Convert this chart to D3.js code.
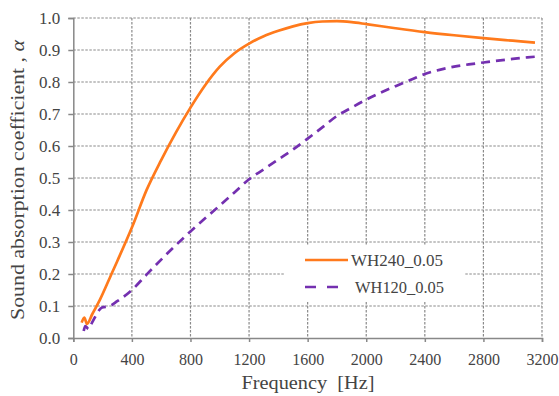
<!DOCTYPE html>
<html><head><meta charset="utf-8">
<script src="https://cdn.jsdelivr.net/npm/d3@7"></script>
<style>body{margin:0;background:#fff}svg{display:block}</style>
</head><body>
<svg id="c" width="559" height="396"></svg>
<script>
const xTicks = [0,400,800,1200,1600,2000,2400,2800,3200];
const yTicks = [0,0.1,0.2,0.3,0.4,0.5,0.6,0.7,0.8,0.9,1.0];
const seriesNames = ["WH240_0.05","WH120_0.05"];
const wh240Freq = [57,75,93,130,182,251,300,400,500,600,700,800,900,1000,1100,1200,1300,1400,1500,1600,1700,1800,1900,2000,2200,2400,2600,2800,3000,3152];
const wh240Val  = [0.048,0.064,0.044,0.075,0.12,0.19,0.24,0.345,0.462,0.556,0.642,0.72,0.79,0.848,0.89,0.92,0.943,0.96,0.974,0.984,0.989,0.99,0.987,0.981,0.968,0.956,0.946,0.937,0.929,0.923];
const wh120Freq = [71,82,105,128,196,250,300,400,500,600,700,800,900,1000,1100,1200,1300,1400,1500,1600,1700,1800,1900,2000,2100,2200,2300,2400,2500,2600,2700,2800,2900,3000,3100,3152];
const wh120Val  = [0.022,0.037,0.028,0.048,0.095,0.1,0.115,0.15,0.198,0.245,0.29,0.333,0.374,0.414,0.455,0.496,0.527,0.558,0.589,0.623,0.658,0.694,0.72,0.745,0.767,0.787,0.806,0.825,0.838,0.848,0.855,0.861,0.867,0.872,0.877,0.879];

const svg = d3.select("#c");
const L=73.3, R=542, T=18, B=338;
const x = d3.scaleLinear().domain([0,3200]).range([L,R]);
const y = d3.scaleLinear().domain([0,1]).range([B,T]);
const gridC="#8a8a8a", axC="#888", txtC="#444";
const font="'Liberation Serif', 'DejaVu Serif', serif";

// grid
const g = svg.append("g");
g.selectAll(".hg").data(yTicks.filter(d=>d>0)).enter().append("line")
 .attr("x1",L).attr("x2",R).attr("y1",d=>y(d)).attr("y2",d=>y(d))
 .attr("stroke",gridC).attr("stroke-width",1.2).attr("stroke-dasharray","2.5,1.5");
g.selectAll(".vg").data(xTicks.filter(d=>d>0)).enter().append("line")
 .attr("x1",d=>x(d)).attr("x2",d=>x(d)).attr("y1",T).attr("y2",B)
 .attr("stroke",gridC).attr("stroke-width",1.2).attr("stroke-dasharray","2.5,1.5");

// axes
const xa = svg.append("g").attr("transform",`translate(0,${B})`)
 .call(d3.axisBottom(x).tickValues(xTicks).tickSize(4).tickPadding(12).tickFormat(d3.format("d")));
const ya = svg.append("g").attr("transform",`translate(${L},0)`)
 .call(d3.axisLeft(y).tickValues(yTicks).tickSize(5).tickPadding(8).tickFormat(d3.format(".1f")));
[xa,ya].forEach(a=>{
  a.select(".domain").attr("stroke",axC).attr("stroke-width",1.5);
  a.selectAll(".tick line").attr("stroke",axC).attr("stroke-width",1.5);
  a.selectAll(".tick text").attr("fill",txtC).style("font-family",font).style("font-size","16px");
});
ya.selectAll(".tick text").style("font-size","17px");

// lines
const line = d3.line().x(d=>x(d[0])).y(d=>y(d[1])).curve(d3.curveMonotoneX);
const d240 = wh240Freq.map((f,i)=>[f,wh240Val[i]]);
const d120 = wh120Freq.map((f,i)=>[f,wh120Val[i]]);
svg.append("path").datum(d120).attr("d",line).attr("fill","none")
 .attr("stroke","#7430B0").attr("stroke-width",2.7).attr("stroke-dasharray","9,6");
svg.append("path").datum(d240).attr("d",line).attr("fill","none")
 .attr("stroke","#FF7A1C").attr("stroke-width",2.7);

// legend
const lg = svg.append("g");
lg.append("rect").attr("x",284).attr("y",246).attr("width",180).attr("height",56).attr("fill","#fff");
lg.append("line").attr("x1",305).attr("x2",348).attr("y1",260).attr("y2",260)
 .attr("stroke","#FF7A1C").attr("stroke-width",2.7);
lg.append("line").attr("x1",305).attr("x2",348).attr("y1",287).attr("y2",287)
 .attr("stroke","#7430B0").attr("stroke-width",2.7).attr("stroke-dasharray","11,11");
lg.append("text").attr("x",351).attr("y",266).text(seriesNames[0])
 .attr("textLength",92).attr("lengthAdjust","spacingAndGlyphs")
 .attr("fill",txtC).style("font-family",font).style("font-size","17px");
lg.append("text").attr("x",355).attr("y",293).text(seriesNames[1])
 .attr("textLength",89).attr("lengthAdjust","spacingAndGlyphs")
 .attr("fill",txtC).style("font-family",font).style("font-size","17px");

// titles
svg.append("text").attr("x",308).attr("y",389).attr("text-anchor","middle")
 .attr("textLength",133).attr("lengthAdjust","spacingAndGlyphs")
 .attr("fill",txtC).style("font-family",font).style("font-size","18px")
 .attr("xml:space","preserve").text("Frequency  [Hz]");
const yt = svg.append("text").attr("transform","translate(24,180) rotate(-90)").attr("text-anchor","middle")
 .attr("textLength",280).attr("lengthAdjust","spacingAndGlyphs")
 .attr("fill",txtC).style("font-family",font).style("font-size","19px");
yt.append("tspan").text("Sound absorption coefficient , ");
yt.append("tspan").style("font-style","italic").text("α");
</script>
</body></html>
